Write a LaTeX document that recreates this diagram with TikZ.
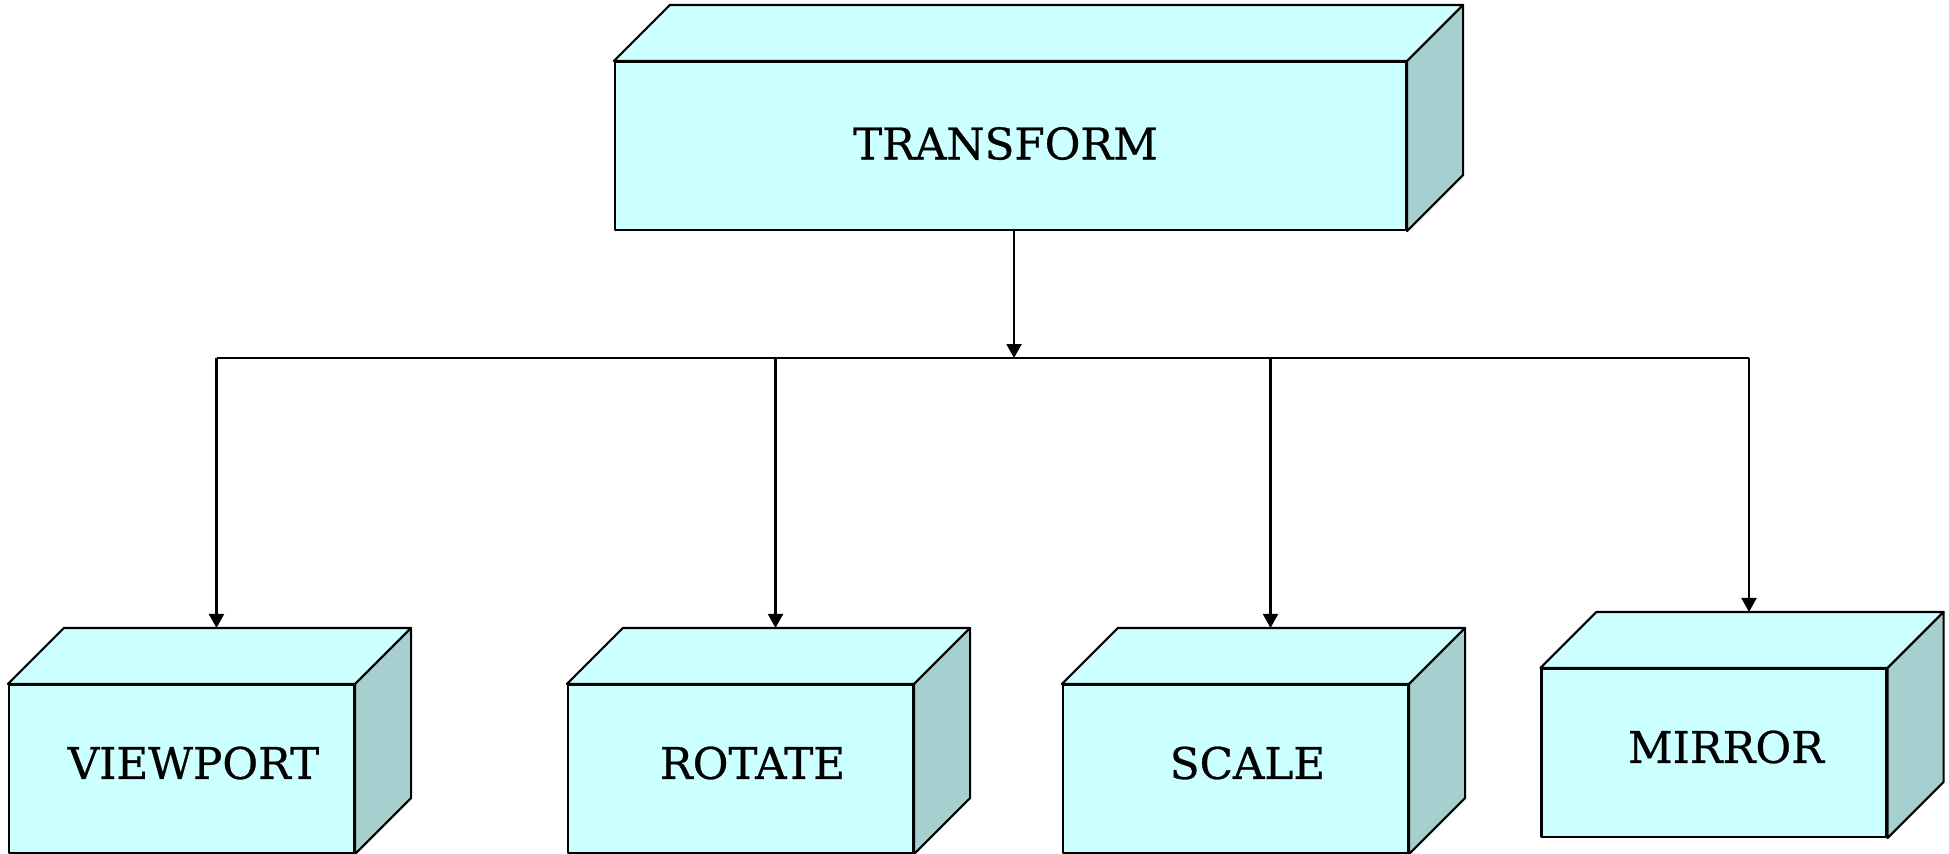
\documentclass[tikz,border=0pt]{standalone}
\usepackage{fontspec}
\setmainfont{DejaVu Serif}
\newfontfamily\labelfont{DejaVu Serif}[FakeBold=0.6]
\usepackage{tikz}
\usetikzlibrary{
  positioning,
  arrows.meta
}
\usepackage{xcolor}
\definecolor{faceblue}{HTML}{CCFFFF}
\definecolor{sideblue}{HTML}{A6CFCF}

% top and right faces of a block
\newcommand{\blockdepth}[1]{%
  \draw[edge,fill=faceblue] (#1.north west) -- ++(0.56,0.56) -- ([shift={(0.56,0.56)}]#1.north east) -- (#1.north east) -- cycle;
  \draw[edge,fill=sideblue] (#1.north east) -- ++(0.56,0.56) -- ([shift={(0.56,0.56)}]#1.south east) -- (#1.south east) -- cycle;
}

\tikzset{
  edge/.style={line width=0.6pt,black,line join=round},
  block/.style={edge,draw,fill=faceblue,inner sep=0pt,minimum height=1.68cm},
  leaf/.style={block,minimum width=3.45cm},
  word/.style={font=\labelfont\fontsize{12.4}{15}\selectfont}
}

\begin{document}
\begin{tikzpicture}[>={Triangle[length=1.4mm,width=1.5mm]}]
        \useasboundingbox (0,0) rectangle (19.49,8.53);
        \node[block,minimum width=7.91cm,
              label={[word,xshift=-0.5mm,yshift=0.25mm]center:TRANSFORM}] (tf) at (10.105,7.07) {};
        \node[leaf,label={[word,xshift=1.2mm,yshift=0.6mm]center:VIEWPORT}] (vp) at (1.815,0.84) {};
        \node[leaf,label={[word,xshift=1.2mm,yshift=0.6mm]center:ROTATE}] (rt) at (7.405,0.84) {};
        \node[leaf,label={[word,xshift=1.2mm,yshift=0.6mm]center:SCALE}] (sc) at (12.355,0.84) {};
        \node[leaf,label={[word,xshift=1.2mm,yshift=0.6mm]center:MIRROR}] (mr) at (17.14,1.00) {};
        \foreach \n in {tf,vp,rt,sc,mr} {\blockdepth{\n}}
        % where the arrows land on the top faces
        \foreach \n in {vp,rt,sc,mr} {\coordinate (\n-top) at ([shift={(0.35,0.56)}]\n.north);}
        \coordinate (tf-out) at ([xshift=0.035cm]tf.south);
        \coordinate (bus) at (tf-out |- 0,4.95);
        \draw[edge,->] (tf-out) -- (bus);
        \draw[edge] (vp-top |- bus) -- (mr-top |- bus);
        \foreach \n in {vp,rt,sc,mr} {\draw[edge,->] (\n-top |- bus) -- (\n-top);}
    \end{tikzpicture}
\end{document}
